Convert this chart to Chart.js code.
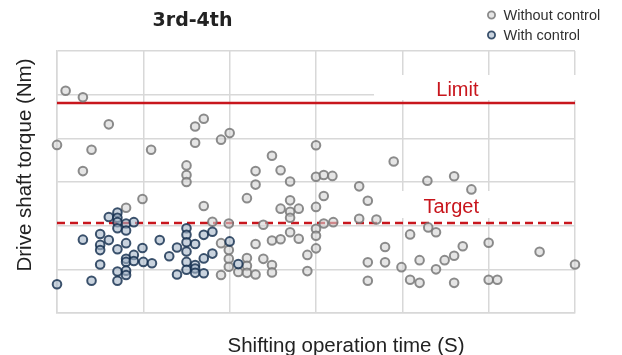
<!DOCTYPE html>
<html>
<head>
<meta charset="utf-8">
<script src="https://cdn.jsdelivr.net/npm/chart.js@4/dist/chart.umd.min.js"></script>
<style>
  html, body { margin: 0; padding: 0; background: #ffffff; }
  #wrap { width: 622px; height: 355px; }
</style>
</head>
<body>
<div id="wrap"><canvas id="c" width="622" height="355"></canvas></div>
<script>
// Series: shifting operation time (x) vs drive shaft torque (y), unitless grid scale 0..6
const chartTitle = '3rd-4th';
const seriesNames = ['Without control', 'With control'];
const xTitle = 'Shifting operation time (S)';
const yTitle = 'Drive shaft torque (Nm)';

const withoutX = [
  0.10, 0.30, 0.60, 0.00, 0.40, 0.30, 1.09, 1.60, 1.70, 1.60, 1.90, 2.00, 1.50, 1.50, 1.50,
  2.30, 2.49, 2.59, 2.70, 2.30, 3.00, 3.90, 3.00, 3.09, 3.19, 3.50, 4.29, 4.60, 4.80,
  0.99, 0.80, 1.70, 2.20, 2.59, 2.70, 2.80, 2.70, 2.70, 1.80, 1.99, 2.39, 2.70, 2.80,
  2.49, 2.59, 2.30, 1.90, 1.99, 2.90, 2.20, 2.39, 1.99, 1.99, 2.10, 2.20, 2.20, 2.30,
  2.49, 2.49, 1.90, 2.90, 3.00, 3.09, 3.60, 3.50, 3.70, 3.09, 3.20, 3.00, 3.00, 3.00,
  3.60, 3.80, 3.80, 3.60, 3.99, 4.09, 4.20, 4.09, 4.20, 4.30, 4.39, 4.39, 4.49, 4.60,
  4.70, 4.60, 5.00, 5.00, 5.10, 5.59, 6.00
];
const withoutY = [
  5.09, 4.94, 4.32, 3.85, 3.74, 3.25, 3.74, 4.27, 4.45, 3.90, 3.97, 4.12, 3.38, 3.16, 3.00,
  3.25, 3.60, 3.27, 3.01, 2.94, 3.84, 3.47, 3.12, 3.16, 3.14, 2.90, 3.03, 3.13, 2.83,
  2.61, 2.41, 2.45, 2.63, 2.39, 2.58, 2.39, 2.32, 2.18, 2.09, 2.05, 2.02, 1.85, 1.70,
  1.66, 1.69, 1.58, 1.60, 1.44, 1.33, 1.26, 1.24, 1.24, 1.06, 0.94, 1.08, 0.92, 0.88,
  1.10, 0.93, 0.87, 0.96, 2.43, 2.68, 2.57, 2.16, 2.14, 2.05, 2.08, 1.93, 1.77, 1.48,
  1.16, 1.51, 1.16, 0.74, 1.05, 0.76, 0.69, 1.80, 1.21, 1.96, 1.85, 1.00, 1.21, 1.31,
  1.53, 0.69, 1.61, 0.76, 0.76, 1.40, 1.11
];

const withX = [
  0.00, 0.30, 0.40, 0.50, 0.50, 0.50, 0.50, 0.60, 0.60, 0.70, 0.70, 0.70, 0.70, 0.70,
  0.70, 0.70, 0.80, 0.80, 0.80, 0.80, 0.80, 0.80, 0.80, 0.89, 0.89, 0.89, 0.99, 1.00,
  1.10, 1.19, 1.30, 1.39, 1.39, 1.50, 1.50, 1.50, 1.50, 1.50, 1.50, 1.60, 1.60, 1.60,
  1.60, 1.70, 1.70, 1.70, 1.80, 1.80, 2.00, 2.10
];
const withY = [
  0.66, 1.68, 0.74, 1.81, 1.56, 1.44, 1.11, 2.20, 1.67, 2.30, 2.18, 2.08, 1.94, 1.46,
  0.95, 0.74, 2.05, 1.89, 1.60, 1.24, 1.17, 0.97, 0.87, 2.08, 1.33, 1.19, 1.49, 1.17,
  1.14, 1.67, 1.30, 1.50, 0.88, 1.94, 1.79, 1.62, 1.41, 1.17, 0.99, 1.58, 1.10, 1.02,
  0.92, 1.79, 1.25, 0.91, 1.86, 1.36, 1.64, 1.12
];

// Reference levels
const limitValue = 4.81;
const targetValue = 2.05;
const limitLabel = 'Limit';
const targetLabel = 'Target';

const toPoints = (xs, ys) => xs.map((x, i) => ({ x: x, y: ys[i] }));

const GRID = '#d8d8d8';
const RED = '#c8161d';
const TEXT = '#222222';

const styleGray = { fill: 'rgba(212,212,212,0.6)', stroke: 'rgba(120,120,120,0.85)' };
const styleNavy = { fill: 'rgba(165,182,200,0.6)', stroke: 'rgba(20,46,78,0.82)' };

const annotations = {
  id: 'annotations',
  beforeDatasetsDraw(chart) {
    const { ctx, chartArea: a, scales } = chart;
    const w = a.right - a.left;
    const yL = Math.round(scales.y.getPixelForValue(limitValue));
    const yT = Math.round(scales.y.getPixelForValue(targetValue));
    ctx.save();
    // label backgrounds hide the grid behind them
    ctx.fillStyle = '#ffffff';
    ctx.fillRect(a.left + w * 0.612, yL - 28, w * 0.39 + 2, 25);
    ctx.fillRect(a.left + w * 0.652, yT - 32, w * 0.21, 27);
    // limit line
    ctx.strokeStyle = RED;
    ctx.lineWidth = 2.5;
    ctx.beginPath();
    ctx.moveTo(a.left, yL);
    ctx.lineTo(a.right, yL);
    ctx.stroke();
    // target line
    ctx.setLineDash([8, 5]);
    ctx.beginPath();
    ctx.moveTo(a.left, yT);
    ctx.lineTo(a.right, yT);
    ctx.stroke();
    ctx.setLineDash([]);
    // labels
    ctx.fillStyle = RED;
    ctx.font = '20px "Liberation Sans", Arial, sans-serif';
    ctx.textAlign = 'center';
    ctx.textBaseline = 'alphabetic';
    ctx.fillText(limitLabel, a.left + w * 0.773, yL - 7.5);
    ctx.fillText(targetLabel, a.left + w * 0.761, yT - 10.5);
    ctx.restore();
  },
  afterDraw(chart) {
    const { ctx, chartArea: a } = chart;
    ctx.save();
    // title
    ctx.fillStyle = TEXT;
    ctx.font = 'bold 19px "DejaVu Sans", Verdana, sans-serif';
    ctx.textAlign = 'center';
    ctx.textBaseline = 'alphabetic';
    ctx.fillText(chartTitle, 192.5, 26);
    // axis titles
    ctx.font = '20.5px "Liberation Sans", Arial, sans-serif';
    ctx.fillText(xTitle, 346, 352);
    ctx.save();
    ctx.translate(31, 165);
    ctx.rotate(-Math.PI / 2);
    ctx.fillText(yTitle, 0, 0);
    ctx.restore();
    // legend
    const items = [
      { name: seriesNames[0], s: styleGray, y: 15 },
      { name: seriesNames[1], s: styleNavy, y: 35 }
    ];
    ctx.font = '14.5px "Liberation Sans", Arial, sans-serif';
    ctx.textAlign = 'left';
    ctx.textBaseline = 'middle';
    items.forEach(it => {
      ctx.beginPath();
      ctx.arc(491.5, it.y, 3.6, 0, Math.PI * 2);
      ctx.fillStyle = it.s.fill;
      ctx.fill();
      ctx.lineWidth = 1.8;
      ctx.strokeStyle = it.s.stroke;
      ctx.stroke();
      ctx.fillStyle = '#303030';
      ctx.fillText(it.name, 503.5, it.y + 0.5);
    });
    ctx.restore();
  }
};

new Chart(document.getElementById('c'), {
  type: 'scatter',
  data: {
    datasets: [
      {
        label: seriesNames[0],
        data: toPoints(withoutX, withoutY),
        backgroundColor: styleGray.fill,
        borderColor: styleGray.stroke,
        pointRadius: 4.3,
        pointBorderWidth: 2,
        clip: false,
        order: 1
      },
      {
        label: seriesNames[1],
        data: toPoints(withX, withY),
        backgroundColor: styleNavy.fill,
        borderColor: styleNavy.stroke,
        pointRadius: 4.3,
        pointBorderWidth: 2,
        clip: false,
        order: 0
      }
    ]
  },
  options: {
    responsive: false,
    devicePixelRatio: 1,
    animation: false,
    layout: { padding: { left: 57, right: 47, top: 51, bottom: 42 } },
    plugins: {
      legend: { display: false },
      title: { display: false },
      tooltip: { enabled: false }
    },
    scales: {
      x: {
        type: 'linear',
        min: 0, max: 6,
        ticks: { display: false, stepSize: 1 },
        grid: { color: GRID, lineWidth: 1.5, drawTicks: false },
        border: { display: true, color: GRID, width: 1.5 }
      },
      y: {
        type: 'linear',
        min: 0, max: 6,
        ticks: { display: false, stepSize: 1 },
        grid: { color: GRID, lineWidth: 1.5, drawTicks: false },
        border: { display: true, color: GRID, width: 1.5 }
      }
    }
  },
  plugins: [annotations]
});
</script>
</body>
</html>
